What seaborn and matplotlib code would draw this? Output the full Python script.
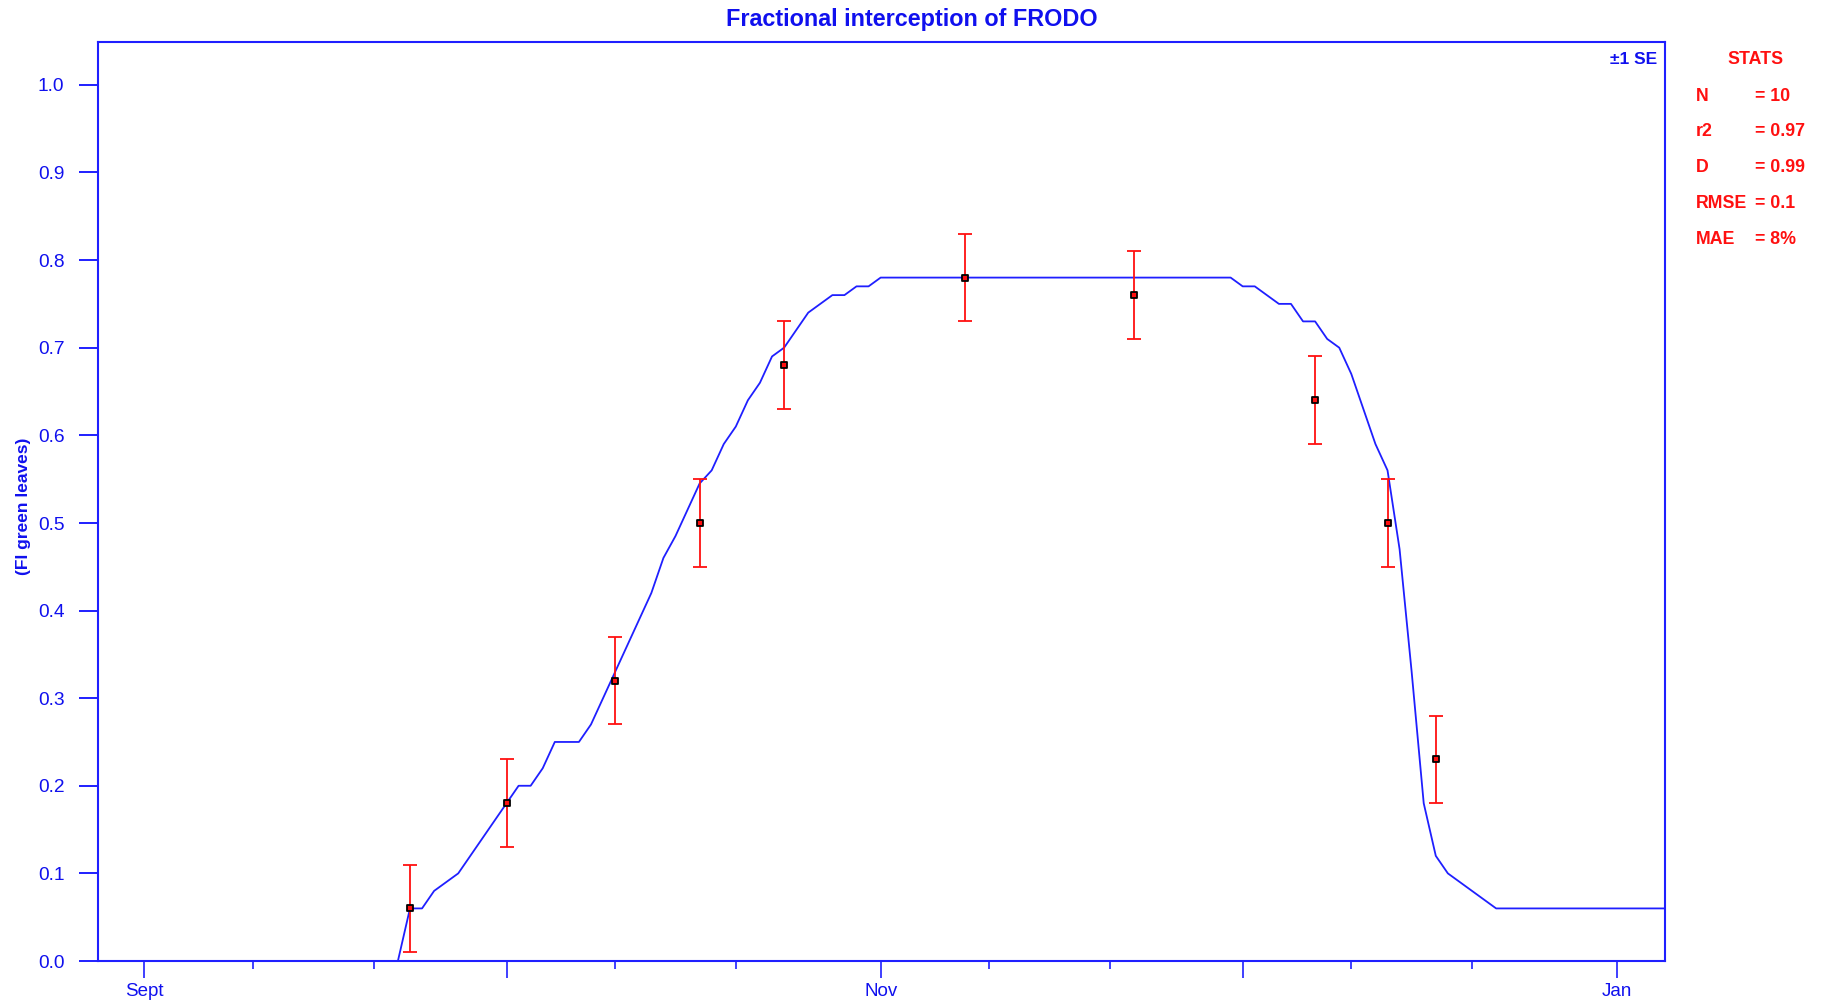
import matplotlib
matplotlib.use("Agg")
import matplotlib.pyplot as plt
import seaborn as sns
import pandas as pd

# ---- data (x = days since 1 September) ----
sim_day = [-4, 21, 22, 23, 24, 25, 26, 27, 28, 29, 30,
           31, 32, 33, 34, 35, 36, 37, 38, 39, 40,
           41, 42, 43, 44, 45, 46, 47, 48, 49, 50,
           51, 52, 53, 54, 55, 56, 57, 58, 59, 60, 61,
           90, 91, 92, 93, 94, 95, 96, 97, 98, 99,
           100, 101, 102, 103, 104, 105, 106, 107, 108, 109,
           110, 111, 112, 126]
sim_fi = [0.0, 0.0, 0.06, 0.06, 0.08, 0.09, 0.10, 0.12, 0.14, 0.16, 0.18,
          0.20, 0.20, 0.22, 0.25, 0.25, 0.25, 0.27, 0.30, 0.33, 0.36,
          0.39, 0.42, 0.46, 0.485, 0.515, 0.545, 0.56, 0.59, 0.61, 0.64,
          0.66, 0.69, 0.70, 0.72, 0.74, 0.75, 0.76, 0.76, 0.77, 0.77, 0.78,
          0.78, 0.77, 0.77, 0.76, 0.75, 0.75, 0.73, 0.73, 0.71, 0.70,
          0.67, 0.63, 0.59, 0.56, 0.47, 0.33, 0.18, 0.12, 0.10, 0.09,
          0.08, 0.07, 0.06, 0.06]

obs_day = [22, 30, 39, 46, 53, 68, 82, 97, 103, 107]
obs_fi = [0.06, 0.18, 0.32, 0.50, 0.68, 0.78, 0.76, 0.64, 0.50, 0.23]
obs_se = [0.05, 0.05, 0.05, 0.05, 0.05, 0.05, 0.05, 0.05, 0.05, 0.05]

month_ticks = [0, 30, 61, 91, 122]
month_labels = ["Sept", "", "Nov", "", "Jan"]
minor_ticks = [9, 19, 39, 49, 70, 80, 100, 110]
y_ticks = [0.0, 0.1, 0.2, 0.3, 0.4, 0.5, 0.6, 0.7, 0.8, 0.9, 1.0]

stat_names = ["N", "r2", "D", "RMSE", "MAE"]
stat_values = ["= 10", "= 0.97", "= 0.99", "= 0.1", "= 8%"]

title = "Fractional interception of FRODO"
ylabel = "(FI green leaves)"

# ---- style ----
sns.set_style("white")
plt.rcParams["font.family"] = ["Liberation Sans", "DejaVu Sans"]

BLUE = "#1f1fff"
TXT_BLUE = "#1010ee"
RED = "#ff1010"

W, H = 1823, 1003
fig = plt.figure(figsize=(W / 100 + 0.001, H / 100 + 0.001), dpi=100)
ax = fig.add_axes([98 / W, 1 - 961 / H, (1665 - 98) / W, (961 - 42) / H])

sim_df = pd.DataFrame({"day": sim_day, "fi": sim_fi})
obs_df = pd.DataFrame({"day": obs_day, "fi": obs_fi, "se": obs_se})

sns.lineplot(data=sim_df, x="day", y="fi", ax=ax, color=BLUE, linewidth=1.3,
             sort=False, zorder=3)
ax.errorbar(obs_df["day"], obs_df["fi"], yerr=obs_df["se"], fmt="none",
            ecolor=RED, elinewidth=1.3, capsize=5, capthick=1.3, zorder=4)
sns.scatterplot(data=obs_df, x="day", y="fi", ax=ax, marker="s", s=18,
                color=RED, edgecolor="black", linewidth=1.3, zorder=5)

ax.set_xlim(-3.85, 126)
ax.set_ylim(0, 1.049)
ax.set_xlabel("")
ax.set_ylabel("")

ax.set_xticks(month_ticks)
ax.set_xticklabels(month_labels)
ax.set_xticks(minor_ticks, minor=True)
ax.set_yticks(y_ticks)
ax.set_yticklabels([f"{v:.1f}" for v in y_ticks])

ax.tick_params(axis="x", which="major", direction="out", length=12.2, width=1.2,
               color=BLUE, labelcolor=TXT_BLUE, labelsize=13.5, pad=3.5,
               bottom=True)
ax.tick_params(axis="x", which="minor", direction="out", length=5.4, width=1.2,
               color=BLUE, bottom=True)
ax.tick_params(axis="y", which="major", direction="out", length=13.7, width=1.4,
               color=BLUE, labelcolor=TXT_BLUE, labelsize=13.8, pad=10.5,
               left=True)

for sp in ax.spines.values():
    sp.set_visible(True)
    sp.set_color(BLUE)
    sp.set_linewidth(1.5)

fig.text(911.5 / W, 1 - 19 / H, title, ha="center", va="center",
         color=TXT_BLUE, fontsize=16.8, fontweight="bold")
fig.text(23 / W, 1 - 506 / H, ylabel, ha="center", va="center", rotation=90,
         color=TXT_BLUE, fontsize=12.5, fontweight="bold")
fig.text(1657 / W, 1 - 59 / H, "\u00b11 SE", ha="right", va="center",
         color=TXT_BLUE, fontsize=12.5, fontweight="bold")

fig.text(1755 / W, 1 - 59 / H, "STATS", ha="center", va="center",
         color=RED, fontsize=12.8, fontweight="bold")
row_y = [96, 131, 167, 203, 239]
for name, val, yy in zip(stat_names, stat_values, row_y):
    fig.text(1696 / W, 1 - yy / H, name, ha="left", va="center",
             color=RED, fontsize=12.8, fontweight="bold")
    fig.text(1755 / W, 1 - yy / H, val, ha="left", va="center",
             color=RED, fontsize=12.8, fontweight="bold")

fig.savefig("out.png", dpi=100, facecolor="white")
